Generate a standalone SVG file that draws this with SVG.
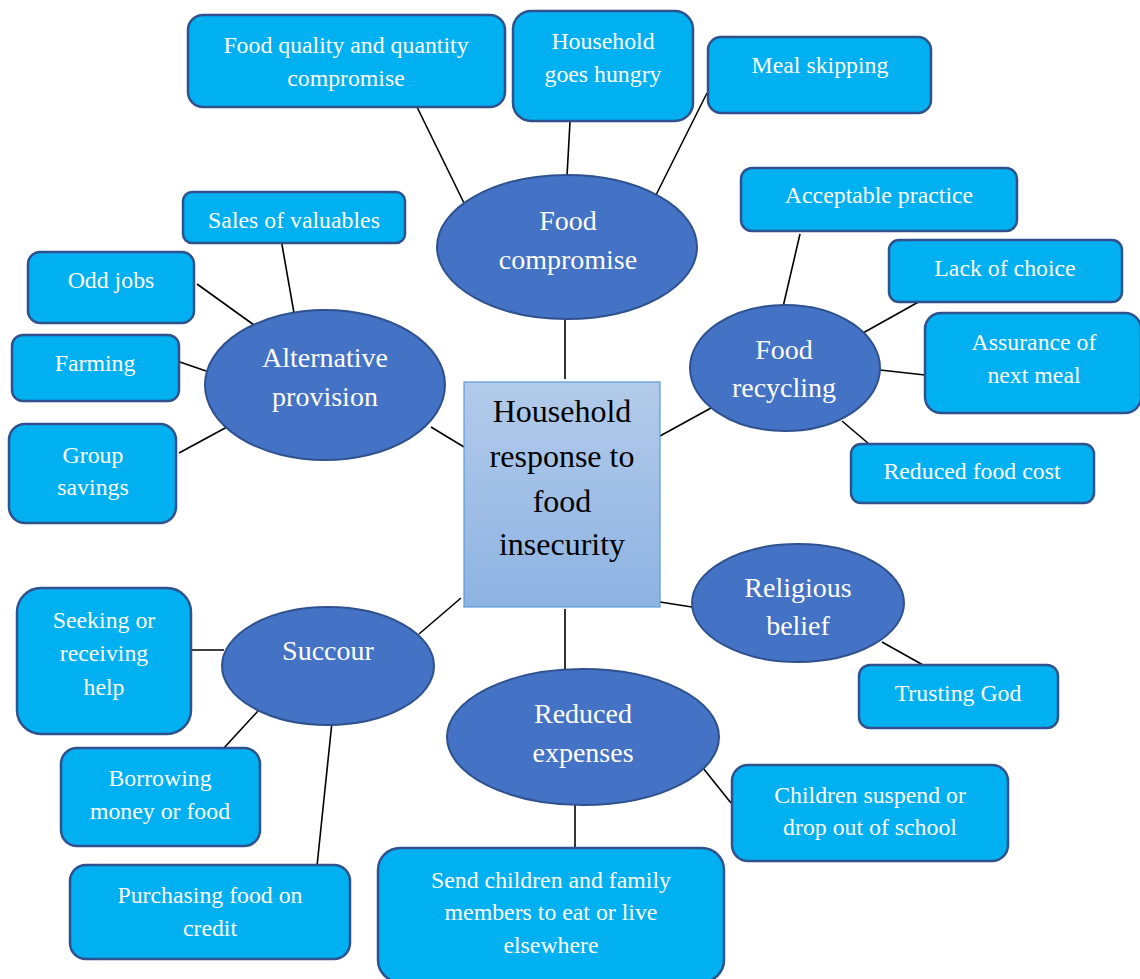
<svg xmlns="http://www.w3.org/2000/svg" width="1140" height="979" viewBox="0 0 1140 979">
  <defs>
    <linearGradient id="centreFill" x1="0" y1="0" x2="0" y2="1">
      <stop offset="0" stop-color="#B3CBEA"/>
      <stop offset="1" stop-color="#8DB3E2"/>
    </linearGradient>
  </defs>
  <style>
    .box { fill: #00B0F0; stroke: #2F528F; stroke-width: 2.5; }
    .oval { fill: #4472C4; stroke: #2F528F; stroke-width: 2; }
    .centre { fill: url(#centreFill); stroke: #5B9BD5; stroke-width: 1.2; }
    .links line { stroke: #000; stroke-width: 1.6; }
    text { font-family: "Liberation Serif", "Times New Roman", serif; text-anchor: middle; }
    .bt { fill: #fff; font-size: 23.8px; }
    .ot { fill: #fff; font-size: 28px; }
    .ct { fill: #000; font-size: 32px; }
  </style>
  <rect width="1140" height="979" fill="#fff"/>

  <!-- connectors -->
  <g class="links">
    <line x1="565" y1="319" x2="565" y2="379"/>
    <line x1="417" y1="107" x2="464" y2="203"/>
    <line x1="570" y1="122" x2="567" y2="176"/>
    <line x1="707" y1="93" x2="656" y2="195"/>
    <line x1="431" y1="427" x2="464" y2="447"/>
    <line x1="281" y1="239" x2="294" y2="313"/>
    <line x1="197" y1="284" x2="254" y2="325"/>
    <line x1="177" y1="361" x2="206" y2="371"/>
    <line x1="179" y1="453" x2="227" y2="427"/>
    <line x1="660" y1="436" x2="711" y2="408"/>
    <line x1="800" y1="234" x2="783" y2="307"/>
    <line x1="922" y1="300" x2="863" y2="333"/>
    <line x1="880" y1="370" x2="925" y2="375"/>
    <line x1="842" y1="421" x2="869" y2="444"/>
    <line x1="660" y1="602" x2="692" y2="607"/>
    <line x1="882" y1="642" x2="923" y2="665"/>
    <line x1="565" y1="609" x2="565" y2="669"/>
    <line x1="703" y1="768" x2="731" y2="803"/>
    <line x1="575" y1="805" x2="575" y2="848"/>
    <line x1="461" y1="598" x2="419" y2="634"/>
    <line x1="191" y1="650" x2="224" y2="650"/>
    <line x1="258" y1="711" x2="223" y2="749"/>
    <line x1="332" y1="722" x2="317" y2="866"/>
  </g>

  <!-- central topic -->
  <g id="household-response">
    <rect class="centre" x="464" y="382" width="196" height="225"/>
    <text class="ct" x="562" y="422">Household</text>
    <text class="ct" x="562" y="467">response to</text>
    <text class="ct" x="562" y="512">food</text>
    <text class="ct" x="562" y="555">insecurity</text>
  </g>

  <!-- food compromise branch -->
  <g id="food-compromise">
    <ellipse class="oval" cx="567" cy="247" rx="130" ry="72"/>
    <text class="ot" x="568" y="230">Food</text>
    <text class="ot" x="568" y="269">compromise</text>
  </g>
  <g id="quality-quantity">
    <rect class="box" x="188" y="15" width="317" height="92" rx="15"/>
    <text class="bt" x="346" y="53">Food quality and quantity</text>
    <text class="bt" x="346" y="86">compromise</text>
  </g>
  <g id="goes-hungry">
    <rect class="box" x="513" y="11" width="180" height="110" rx="18"/>
    <text class="bt" x="603" y="49">Household</text>
    <text class="bt" x="603" y="82">goes hungry</text>
  </g>
  <g id="meal-skipping">
    <rect class="box" x="708" y="37" width="223" height="76" rx="13"/>
    <text class="bt" x="820" y="73">Meal skipping</text>
  </g>

  <!-- alternative provision branch -->
  <g id="alternative-provision">
    <ellipse class="oval" cx="325" cy="385" rx="120" ry="75"/>
    <text class="ot" x="325" y="367">Alternative</text>
    <text class="ot" x="325" y="406">provision</text>
  </g>
  <g id="sales-valuables">
    <rect class="box" x="183" y="192" width="222" height="51" rx="9"/>
    <text class="bt" x="294" y="228">Sales of valuables</text>
  </g>
  <g id="odd-jobs">
    <rect class="box" x="28" y="252" width="166" height="71" rx="12"/>
    <text class="bt" x="111" y="288">Odd jobs</text>
  </g>
  <g id="farming">
    <rect class="box" x="12" y="335" width="167" height="66" rx="11"/>
    <text class="bt" x="95" y="371">Farming</text>
  </g>
  <g id="group-savings">
    <rect class="box" x="9" y="424" width="167" height="99" rx="16"/>
    <text class="bt" x="93" y="463">Group</text>
    <text class="bt" x="93" y="495">savings</text>
  </g>

  <!-- food recycling branch -->
  <g id="food-recycling">
    <ellipse class="oval" cx="785" cy="368" rx="95" ry="63"/>
    <text class="ot" x="784" y="359">Food</text>
    <text class="ot" x="784" y="397">recycling</text>
  </g>
  <g id="acceptable-practice">
    <rect class="box" x="741" y="168" width="276" height="63" rx="11"/>
    <text class="bt" x="879" y="203">Acceptable practice</text>
  </g>
  <g id="lack-of-choice">
    <rect class="box" x="889" y="240" width="233" height="62" rx="10"/>
    <text class="bt" x="1005" y="276">Lack of choice</text>
  </g>
  <g id="assurance-next-meal">
    <rect class="box" x="925" y="313" width="216" height="100" rx="16"/>
    <text class="bt" x="1034" y="350">Assurance of</text>
    <text class="bt" x="1034" y="383">next meal</text>
  </g>
  <g id="reduced-food-cost">
    <rect class="box" x="851" y="444" width="243" height="59" rx="10"/>
    <text class="bt" x="972" y="479">Reduced food cost</text>
  </g>

  <!-- religious belief branch -->
  <g id="religious-belief">
    <ellipse class="oval" cx="798" cy="603" rx="106" ry="59"/>
    <text class="ot" x="798" y="597">Religious</text>
    <text class="ot" x="798" y="635">belief</text>
  </g>
  <g id="trusting-god">
    <rect class="box" x="859" y="665" width="199" height="63" rx="11"/>
    <text class="bt" x="958" y="701">Trusting God</text>
  </g>

  <!-- reduced expenses branch -->
  <g id="reduced-expenses">
    <ellipse class="oval" cx="583" cy="737" rx="136" ry="68"/>
    <text class="ot" x="583" y="723">Reduced</text>
    <text class="ot" x="583" y="762">expenses</text>
  </g>
  <g id="children-school">
    <rect class="box" x="732" y="765" width="276" height="96" rx="16"/>
    <text class="bt" x="870" y="803">Children suspend or</text>
    <text class="bt" x="870" y="835">drop out of school</text>
  </g>
  <g id="send-elsewhere">
    <rect class="box" x="378" y="848" width="346" height="134" rx="22"/>
    <text class="bt" x="551" y="888">Send children and family</text>
    <text class="bt" x="551" y="920">members to eat or live</text>
    <text class="bt" x="551" y="953">elsewhere</text>
  </g>

  <!-- succour branch -->
  <g id="succour">
    <ellipse class="oval" cx="328" cy="666" rx="106" ry="59"/>
    <text class="ot" x="328" y="660">Succour</text>
  </g>
  <g id="seeking-help">
    <rect class="box" x="17" y="588" width="174" height="146" rx="24"/>
    <text class="bt" x="104" y="628">Seeking or</text>
    <text class="bt" x="104" y="661">receiving</text>
    <text class="bt" x="104" y="695">help</text>
  </g>
  <g id="borrowing">
    <rect class="box" x="61" y="748" width="199" height="98" rx="16"/>
    <text class="bt" x="160" y="786">Borrowing</text>
    <text class="bt" x="160" y="819">money or food</text>
  </g>
  <g id="credit-purchase">
    <rect class="box" x="70" y="865" width="280" height="94" rx="16"/>
    <text class="bt" x="210" y="903">Purchasing food on</text>
    <text class="bt" x="210" y="936">credit</text>
  </g>
</svg>
